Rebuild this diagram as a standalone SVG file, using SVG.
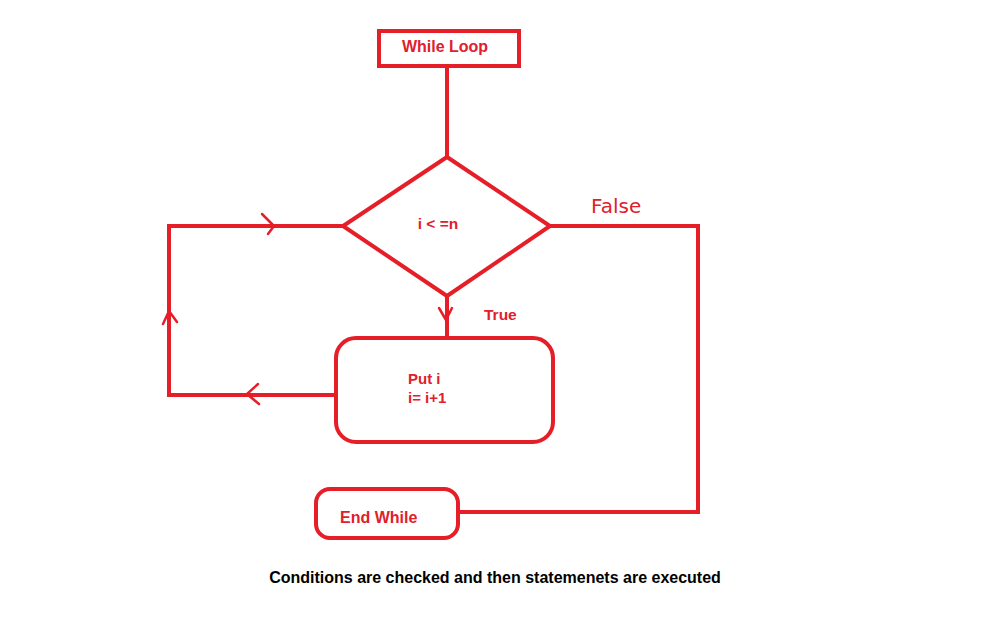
<svg xmlns="http://www.w3.org/2000/svg" width="992" height="620" viewBox="0 0 992 620">
<style>
.s{fill:none;stroke:#e61e28;stroke-width:4;stroke-linecap:round;stroke-linejoin:miter}
.c{fill:none;stroke:#e61e28;stroke-width:2.5;stroke-linecap:round;stroke-linejoin:round}
.t{font-family:"Liberation Sans",Arial,sans-serif;font-weight:bold;fill:#e0202c}
</style>
<rect width="992" height="620" fill="#fff"/>
<g id="connectors">
<path class="s" d="M447 66 V157"/>
<path class="s" d="M550 226 H698 V512 H458"/>
<path class="s" d="M343 226 H169 V395 H335"/>
<path class="s" d="M447 296 V338"/>
<path class="c" d="M262 214 L274 226 L268 234"/>
<path class="c" d="M163 324 L169 311 L177 322"/>
<path class="c" d="M258 384 L247 394 L259 404"/>
<path class="c" d="M439 308 L446 320 L452 308"/>
</g>
<g id="start">
<rect class="s" x="379" y="31" width="140" height="35"/>
<text class="t" x="445" y="52" font-size="16" text-anchor="middle">While Loop</text>
</g>
<g id="condition">
<polygon class="s" points="447,157 550,226 447,296 343,226"/>
<text class="t" x="438" y="229" font-size="15.5" text-anchor="middle">i &lt; =n</text>
</g>
<g id="labels">
<text x="591" y="213" font-family="'DejaVu Sans',sans-serif" font-size="20" fill="#e0202c">False</text>
<text class="t" x="484" y="320" font-size="15.5">True</text>
</g>
<g id="body">
<rect class="s" x="336" y="338" width="217" height="104" rx="20"/>
<text class="t" x="408" y="384" font-size="15">Put i</text>
<text class="t" x="408" y="403" font-size="15">i= i+1</text>
</g>
<g id="end">
<rect class="s" x="316" y="489" width="142" height="49" rx="14"/>
<text class="t" x="340" y="523" font-size="16">End While</text>
</g>
<text x="495" y="583" font-family="'Liberation Sans',Arial,sans-serif" font-weight="bold" font-size="16" text-anchor="middle" fill="#000">Conditions are checked and then statemenets are executed</text>
</svg>
